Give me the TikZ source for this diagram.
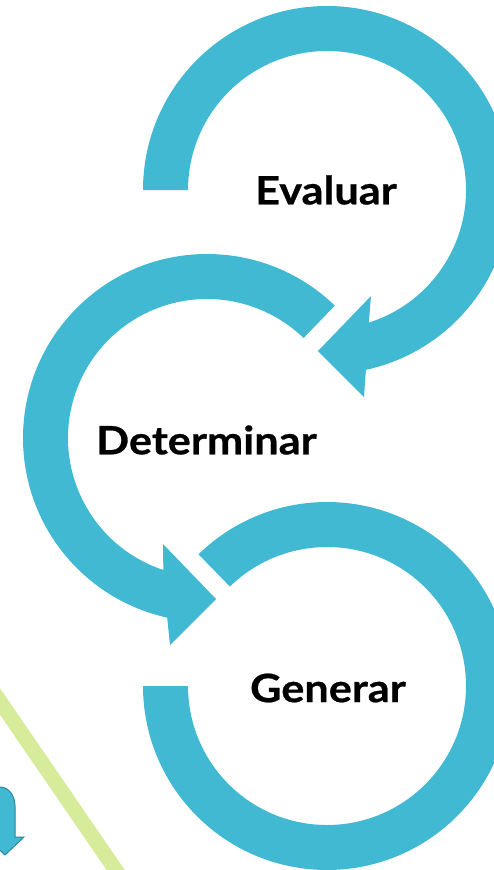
\documentclass[tikz,border=0pt]{standalone}
\usepackage{fontspec}
\setmainfont{Lato}[FakeStretch=1.11, BoldFeatures={FakeBold=0.6}]
\definecolor{ringblue}{RGB}{65,185,211}
\definecolor{lgreen}{RGB}{215,236,155}
\definecolor{darkteal}{RGB}{45,135,155}
\tikzset{
  ring/.style={fill=ringblue},
  lbl/.style={font=\fontsize{39}{42}\selectfont\bfseries, text=black, inner sep=0pt},
}
\begin{document}
\begin{tikzpicture}[x=1pt,y=-1pt]
\useasboundingbox (0,0) rectangle (494,870);
\clip (0,0) rectangle (494,870);
\fill[white] (0,0) rectangle (494,870);
% green diagonal band
\draw[lgreen, line width=15pt] (-20,672.4) -- (130,890.8);
% small partial blue arrow
\filldraw[fill=ringblue, draw=darkteal, line width=1pt]
  (-12,787) -- (0,787) .. controls (9,787) and (15,796) .. (15,806)
  -- (15,837) -- (24,837) -- (5,855) -- (-14,837) -- (-12,837) -- cycle;
% top ring (Evaluar)
\begin{scope}[shift={(327,190)}]
  \fill[ring] (180:184) arc[start angle=180, end angle=437.8, radius=184]
    -- (37,207) -- (-9,161) -- (44,106) -- (432.5:139)
    arc[start angle=432.5, end angle=180, radius=139] -- cycle;
\end{scope}
% middle ring (Determinar)
\begin{scope}[shift={(207,438)}]
  \fill[ring] (-46:184) arc[start angle=-46, end angle=-257.5, radius=184]
    -- (-37,207) -- (9,161) -- (-44,106) -- (-251.7:139)
    arc[start angle=-251.7, end angle=-46, radius=139] -- cycle;
\end{scope}
% bottom ring (Generar)
\begin{scope}[shift={(327,686)}]
  \fill[ring] (225.7:184) arc[start angle=225.7, end angle=540, radius=184]
    -- (540:139) arc[start angle=540, end angle=225.7, radius=139] -- cycle;
\end{scope}
\node[lbl] (evaluar) at (326,190) {Evaluar};
\node[lbl] (determinar) at (206.5,440) {Determinar};
\node[lbl] (generar) at (328,688) {Generar};
\end{tikzpicture}
\end{document}
